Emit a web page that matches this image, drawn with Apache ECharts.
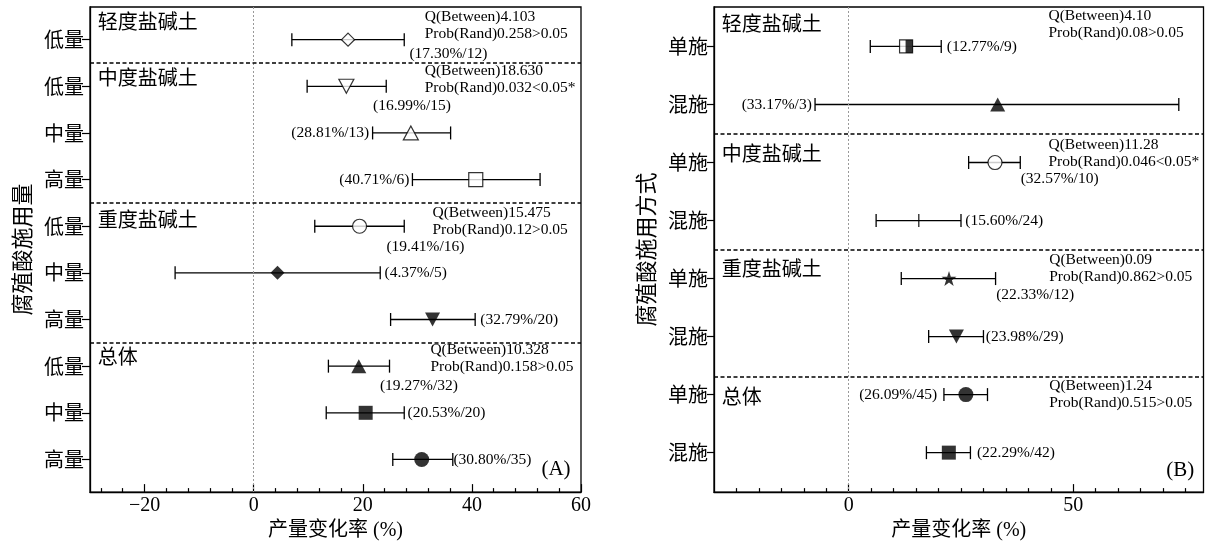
<!DOCTYPE html>
<html><head><meta charset="utf-8">
<script src="https://cdn.jsdelivr.net/npm/echarts@6/dist/echarts.min.js"></script>
<style>html,body{margin:0;padding:0;background:#fff}#c{width:1206px;height:546px}</style>
</head><body><div id="c"></div>
<script>
// ---------------- data: panel A ----------------
const leftCats   = ['低量','低量','中量','高量','低量','中量','高量','低量','中量','高量'];
const leftGroups = ['轻度盐碱土','中度盐碱土','重度盐碱土','总体'];
const leftMean   = [17.30,16.99,28.81,40.71,19.41,4.37,32.79,19.27,20.53,30.80];
const leftN      = [12,15,13,6,16,5,20,32,20,35];
const leftLow    = [7.0,9.8,21.8,29.1,11.2,-14.4,25.1,13.7,13.3,25.5];
const leftHigh   = [27.6,24.3,36.1,52.5,27.6,23.2,40.6,24.9,27.6,36.5];
const leftQ      = ['4.103','18.630','15.475','10.328'];
const leftP      = ['0.258>0.05','0.032<0.05*','0.12>0.05','0.158>0.05'];
const leftTicks  = [-20,0,20,40,60];

// ---------------- data: panel B ----------------
const rightCats   = ['单施','混施','单施','混施','单施','混施','单施','混施'];
const rightGroups = ['轻度盐碱土','中度盐碱土','重度盐碱土','总体'];
const rightMean   = [12.77,33.17,32.57,15.60,22.33,23.98,26.09,22.29];
const rightN      = [9,3,10,24,12,29,45,42];
const rightLow    = [4.8,-7.5,26.7,6.1,11.7,17.8,21.2,17.3];
const rightHigh   = [20.6,73.5,38.2,25.0,32.7,30.0,30.9,27.1];
const rightQ      = ['4.10','11.28','0.09','1.24'];
const rightP      = ['0.08>0.05','0.046<0.05*','0.862>0.05','0.515>0.05'];
const rightTicks  = [0,50];

// ---------------- layout (positions in data units) ----------------
const L = {
  xMin:-30, xMax:60, yMin:-0.7, yMax:9.7,
  minor:[-28,-24,-16,-12,-8,-4,4,8,12,16,24,28,32,36,44,48,52,56],
  sep:[0.5,3.5,6.5],
  titlePos:[[-28.6,-0.385],[-28.6,0.805],[-28.6,3.845],[-28.6,6.79]],
  statPos:[[31.36,-0.313],[31.36,0.851],[32.77,3.892],[32.4,6.841]],
  meanPos:[[28.55,0.30,'left'],[21.87,1.416,'left'],[21.19,2,'right'],[28.55,3,'right'],[24.34,4.44,'left'],
           [23.99,5,'left'],[41.53,6,'left'],[23.15,7.42,'left'],[28.21,8,'left'],[36.62,9,'left']],
  tag:['(A)',52.75,9.22]
};
const R = {
  xMin:-30, xMax:79, yMin:-0.68, yMax:7.68,
  minor:[-25,-20,-15,-10,-5,5,10,15,20,25,30,35,40,45,55,60,65,70,75],
  sep:[1.5,3.5,5.69],
  titlePos:[[-28.26,-0.389],[-28.26,1.839],[-28.26,3.823],[-28.26,6.029]],
  statPos:[[44.47,-0.372],[44.47,1.840],[44.65,3.818],[44.65,6.0]],
  meanPos:[[21.82,0,'left'],[-8.22,1,'right'],[38.28,2.285,'left'],[25.96,3,'left'],[32.84,4.278,'left'],
           [30.53,5,'left'],[19.68,6,'right'],[28.55,7,'left']],
  tag:['(B)',70.7,7.31]
};

const SERIF = '"Liberation Serif","Noto Sans CJK SC",serif';
const CJK = '"Noto Sans CJK SC","Liberation Serif",sans-serif';

const hollow = {color:'#fff', borderColor:'#000', borderWidth:1.2};
const filled = {color:'#000', borderWidth:0};
const STAR = 'path://M50,0 L61.8,35.5 L99,35.5 L69,57.5 L80.5,93 L50,71 L19.5,93 L31,57.5 L1,35.5 L38.2,35.5 Z';
const leftSym = [
  {symbol:'diamond', symbolSize:13, itemStyle:hollow},
  {symbol:'triangle', symbolSize:[15,14], symbolRotate:180, itemStyle:hollow},
  {symbol:'triangle', symbolSize:[15,14], itemStyle:hollow},
  {symbol:'rect', symbolSize:14, itemStyle:hollow},
  {symbol:'circle', symbolSize:14, itemStyle:hollow},
  {symbol:'diamond', symbolSize:14, itemStyle:filled},
  {symbol:'triangle', symbolSize:[15,14], symbolRotate:180, itemStyle:filled},
  {symbol:'triangle', symbolSize:[15,14], itemStyle:filled},
  {symbol:'rect', symbolSize:14, itemStyle:filled},
  {symbol:'circle', symbolSize:15, itemStyle:filled}
];
const rightSym = [
  {symbol:'rect', symbolSize:13, itemStyle:hollow},
  {symbol:'triangle', symbolSize:[15,14], itemStyle:filled},
  {symbol:'circle', symbolSize:14, itemStyle:hollow},
  {symbol:'rect', symbolSize:[1.4,13], itemStyle:filled},
  {symbol:STAR, symbolSize:15, itemStyle:filled},
  {symbol:'triangle', symbolSize:[15,14], symbolRotate:180, itemStyle:filled},
  {symbol:'circle', symbolSize:15, itemStyle:filled},
  {symbol:'rect', symbolSize:14, itemStyle:filled}
];

const lineCol = '#000';
function xAxes(gi, cfg, majors){
  return [
    {gridIndex:gi, type:'value', min:cfg.xMin, max:cfg.xMax, position:'bottom',
     axisLine:{show:true, onZero:false, lineStyle:{color:lineCol, width:1.3}},
     axisTick:{show:true, inside:true, length:8, customValues:majors, lineStyle:{color:lineCol, width:1.2}},
     axisLabel:{customValues:majors, color:'#000', fontSize:20, fontFamily:SERIF, margin:4,
       formatter:v=>String(v).replace('-','\u2212')},
     splitLine:{show:false},
     name:'产量变化率 (%)', nameLocation:'middle', nameGap:24,
     nameTextStyle:{color:'#000', fontSize:20, fontFamily:SERIF}},
    {gridIndex:gi, type:'value', min:cfg.xMin, max:cfg.xMax, position:'bottom',
     axisLine:{show:false, onZero:false},
     axisTick:{show:true, inside:true, length:4, customValues:cfg.minor, lineStyle:{color:lineCol, width:1.2}},
     axisLabel:{show:false}, splitLine:{show:false}}
  ];
}
function yAxis(gi, cfg, cats, name, tickLen){
  const rows = cats.map((_,i)=>i);
  return {gridIndex:gi, type:'value', inverse:true, min:cfg.yMin, max:cfg.yMax, position:'left',
    axisLine:{show:true, onZero:false, lineStyle:{color:lineCol, width:1.3}},
    axisTick:{show:true, inside:false, length:tickLen, customValues:rows, lineStyle:{color:lineCol, width:1.2}},
    axisLabel:{customValues:rows, formatter:v=>cats[Math.round(v)], color:'#000', fontSize:20, fontFamily:CJK, margin:6},
    splitLine:{show:false},
    name:name, nameLocation:'middle', nameGap:57, nameRotate:90,
    nameTextStyle:{color:'#000', fontSize:22, fontFamily:CJK}};
}

function errSeries(xi, yi, low, high){
  return {type:'custom', xAxisIndex:xi, yAxisIndex:yi, z:3, silent:true,
    data: low.map((l,i)=>[l, high[i], i]),
    encode:{x:[0,1], y:2},
    renderItem:(params, api)=>{
      const a = api.coord([api.value(0), api.value(2)]);
      const b = api.coord([api.value(1), api.value(2)]);
      const h = 6.5, st = {stroke:'#000', lineWidth:1.3};
      return {type:'group', children:[
        {type:'line', shape:{x1:a[0], y1:a[1], x2:b[0], y2:b[1]}, style:st},
        {type:'line', shape:{x1:a[0], y1:a[1]-h, x2:a[0], y2:a[1]+h}, style:st},
        {type:'line', shape:{x1:b[0], y1:b[1]-h, x2:b[0], y2:b[1]+h}, style:st}
      ]};
    }};
}
function markerSeries(xi, yi, mean, syms, cfg){
  return {type:'scatter', xAxisIndex:xi, yAxisIndex:yi, z:5, silent:true,
    data: mean.map((m,i)=>Object.assign({value:[m,i]}, syms[i])),
    markLine:{silent:true, symbol:'none', label:{show:false}, animation:false,
      data:[{xAxis:0, lineStyle:{color:'#999', type:[2,2], width:1}}]
        .concat(cfg.sep.map(s=>({yAxis:s, lineStyle:{color:'#000', type:[4,2.5], width:1.6}})))}};
}
function textSeries(xi, yi, items){
  return {type:'custom', xAxisIndex:xi, yAxisIndex:yi, z:6, silent:true,
    data: items.map(t=>[t.x, t.y]),
    encode:{x:0, y:1},
    renderItem:(params, api)=>{
      const t = items[params.dataIndex];
      const p = api.coord([t.x, t.y]);
      return {type:'text', x:p[0], y:p[1], style:{text:t.text, textAlign:t.align||'left', textVerticalAlign:'middle',
        fill:'#000', fontSize:t.size, fontFamily:t.font||SERIF, lineHeight:t.lh||t.size}};
    }};
}
function annotations(cfg, groups, q, p, mean, n){
  const out = [];
  groups.forEach((g,i)=>{
    out.push({x:cfg.titlePos[i][0], y:cfg.titlePos[i][1], text:g, size:20, font:CJK});
    out.push({x:cfg.statPos[i][0], y:cfg.statPos[i][1], text:'Q(Between)'+q[i]+'\nProb(Rand)'+p[i], size:15.5, lh:17});
  });
  mean.forEach((m,i)=>{
    const mp = cfg.meanPos[i];
    out.push({x:mp[0], y:mp[1], align:mp[2], text:'('+m.toFixed(2)+'%/'+n[i]+')', size:15.5});
  });
  out.push({x:cfg.tag[1], y:cfg.tag[2], text:cfg.tag[0], size:21});
  return out;
}

// half-filled square overlay for panel B row 0
const halfFill = {type:'scatter', xAxisIndex:2, yAxisIndex:1, z:6, silent:true,
  data:[{value:[rightMean[0],0], symbol:'rect', symbolSize:[7,13], symbolOffset:[3,0], itemStyle:{color:'#000'}}]};

const chart = echarts.init(document.getElementById('c'), null, {renderer:'canvas'});
chart.setOption({
  animation:false,
  backgroundColor:'#fff',
  grid:[
    {left:90, top:7, width:491, height:492, show:true, borderColor:'#000', borderWidth:1.3, backgroundColor:'transparent'},
    {left:714, top:7, width:489.5, height:492, show:true, borderColor:'#000', borderWidth:1.3, backgroundColor:'transparent'}
  ],
  xAxis: xAxes(0, L, leftTicks).concat(xAxes(1, R, rightTicks)),
  yAxis: [yAxis(0, L, leftCats, '腐殖酸施用量', 8), yAxis(1, R, rightCats, '腐殖酸施用方式', 7)],
  series:[
    errSeries(0,0,leftLow,leftHigh),
    markerSeries(0,0,leftMean,leftSym,L),
    textSeries(0,0,annotations(L,leftGroups,leftQ,leftP,leftMean,leftN)),
    errSeries(2,1,rightLow,rightHigh),
    markerSeries(2,1,rightMean,rightSym,R),
    halfFill,
    textSeries(2,1,annotations(R,rightGroups,rightQ,rightP,rightMean,rightN))
  ]
});
</script></body></html>
